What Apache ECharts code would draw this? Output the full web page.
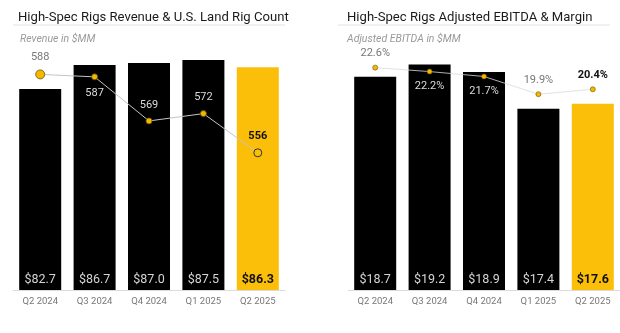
<!DOCTYPE html>
<html><head><meta charset="utf-8">
<script src="https://cdn.jsdelivr.net/npm/echarts@6/dist/echarts.min.js"></script>
<style>html,body{margin:0;padding:0;background:#fff}#c{width:620px;height:333px}</style>
</head><body><div id="c"></div>
<script>
const categories = ['Q2 2024','Q3 2024','Q4 2024','Q1 2025','Q2 2025'];
const revenue = [82.7, 86.7, 87.0, 87.5, 86.3];
const rigCount = [588, 587, 569, 572, 556];
const ebitda = [18.7, 19.2, 18.9, 17.4, 17.6];
const margin = [22.6, 22.2, 21.7, 19.9, 20.4];
const titleLeft = 'High-Spec Rigs Revenue & U.S. Land Rig Count';
const titleRight = 'High-Spec Rigs Adjusted EBITDA & Margin';
const subLeft = 'Revenue in $MM';
const subRight = 'Adjusted EBITDA in $MM';

const YEL = '#fbbf0a';
const FONT = 'Roboto, "Liberation Sans", sans-serif';
const last = categories.length - 1;

function barData(vals){
  return vals.map((v,i)=>({
    value:v,
    itemStyle:{color: i===last ? YEL : '#000'},
    label:{color: i===last ? '#111' : '#d4d4d4', fontWeight: i===last ? 'bold':'normal'}
  }));
}
const leftPos = ['top','bottom','top','top','top'];
const leftOnBar = [false, true, true, true, false];
const rightPos = ['top','bottom','bottom','top','top'];
const rightOnBar = [false, true, true, false, false];
function lineData(vals, pos, onBar, fmt, first){
  return vals.map((v,i)=>{
    const d = {value:v, label:{position:pos[i], formatter: fmt(v),
      color: i===last ? '#111' : (onBar[i] ? '#dcdcdc' : '#777'),
      fontWeight: i===last ? 'bold' : 'normal'}};
    if(first && i===0){ d.symbolSize = 9; }
    if(first && i===last){ d.symbolSize = 8; d.itemStyle = {color:YEL, borderColor:'#333', borderWidth:1}; }
    return d;
  });
}

const chart = echarts.init(document.getElementById('c'), null, {renderer:'canvas'});
chart.setOption({
  animation:false,
  textStyle:{fontFamily:FONT},
  title:[
    {text:titleLeft, left:13, top:6, textStyle:{fontSize:13.1, fontWeight:'normal', color:'#1a1a1a', fontFamily:FONT}},
    {text:subLeft, left:15, top:29, textStyle:{fontSize:10.5, fontStyle:'italic', fontWeight:'normal', color:'#9a9a9a', fontFamily:FONT}},
    {text:titleRight, left:342, top:6, textStyle:{fontSize:13.1, fontWeight:'normal', color:'#1a1a1a', fontFamily:FONT}},
    {text:subRight, left:342, top:29, textStyle:{fontSize:10.5, fontStyle:'italic', fontWeight:'normal', color:'#9a9a9a', fontFamily:FONT}}
  ],
  graphic:[
    {type:'line', shape:{x1:13,y1:25,x2:285,y2:25}, style:{stroke:'#e2e2e2', lineWidth:1}},
    {type:'line', shape:{x1:338,y1:25,x2:610,y2:25}, style:{stroke:'#e2e2e2', lineWidth:1}}
  ],
  grid:[
    {left:13, right:335, top:45, bottom:43},
    {left:348, right:0, top:45, bottom:43}
  ],
  xAxis:[0,1].map(g=>({
    type:'category', gridIndex:g, data:categories,
    axisLine:{lineStyle:{color:'#dcdcdc'}}, axisTick:{show:false},
    axisLabel:{color:'#777', fontSize:9.5, margin:7}
  })),
  yAxis:[
    {gridIndex:0, min:49.4, max:90, show:false},
    {gridIndex:0, min:500, max:600, show:false},
    {gridIndex:1, min:10, max:20, show:false},
    {gridIndex:1, min:0, max:24.9, show:false}
  ],
  series:[
    {type:'bar', xAxisIndex:0, yAxisIndex:0, barWidth:42, data:barData(revenue),
      label:{show:true, position:'insideBottom', distance:4, fontSize:12.5, formatter:p=>'$'+p.value.toFixed(1)}},
    {type:'line', xAxisIndex:0, yAxisIndex:1, data:lineData(rigCount, leftPos, leftOnBar, v=>String(v), true),
      symbol:'circle', symbolSize:6, lineStyle:{color:'#c4c4c4', width:1},
      itemStyle:{color:'#f5b800', borderColor:'#6b5200', borderWidth:0.8},
      label:{show:true, fontSize:11, distance:7}, z:5},
    {type:'bar', xAxisIndex:1, yAxisIndex:2, barWidth:42, data:barData(ebitda),
      label:{show:true, position:'insideBottom', distance:4, fontSize:12.5, formatter:p=>'$'+p.value.toFixed(1)}},
    {type:'line', xAxisIndex:1, yAxisIndex:3, data:lineData(margin, rightPos, rightOnBar, v=>v.toFixed(1)+'%', false),
      symbol:'circle', symbolSize:5, lineStyle:{color:'#dadada', width:0.8},
      itemStyle:{color:'#f5b800', borderColor:'#6b5200', borderWidth:0.6},
      label:{show:true, fontSize:11, distance:6}, z:5}
  ]
});
</script></body></html>
